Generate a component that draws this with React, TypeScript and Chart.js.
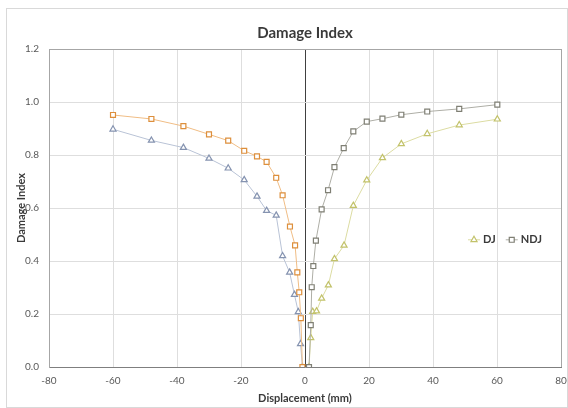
import React, { useEffect, useRef } from "react";
import { Chart, registerables } from "chart.js";

Chart.register(...registerables);

// ---- Data ----
const djLeftX = [-60, -48, -38, -30, -24, -19, -15, -12, -9, -7, -4.8, -3.3, -2.1, -1.4, -0.8];
const djLeftY = [0.897, 0.855, 0.828, 0.787, 0.75, 0.706, 0.644, 0.59, 0.572, 0.419, 0.357, 0.273, 0.208, 0.087, 0];

const ndjLeftX = [-60, -48, -38, -30, -24, -19, -15, -12, -9, -7, -4.7, -3.1, -2.4, -1.8, -1.3, -0.8];
const ndjLeftY = [0.951, 0.936, 0.909, 0.878, 0.854, 0.816, 0.795, 0.774, 0.714, 0.648, 0.53, 0.459, 0.357, 0.282, 0.184, 0];

const djRightX = [1.25, 1.8, 2.4, 3.6, 5.2, 7.3, 9.2, 12.2, 15.1, 19.3, 24.2, 30.1, 38.2, 48.2, 60.1];
const djRightY = [0, 0.11, 0.209, 0.211, 0.259, 0.309, 0.408, 0.459, 0.609, 0.705, 0.789, 0.842, 0.88, 0.913, 0.935];

const ndjRightX = [1.25, 1.8, 2.1, 2.6, 3.4, 5.2, 7.2, 9.2, 12.1, 15.1, 19.3, 24.2, 30.1, 38.2, 48.2, 60.1];
const ndjRightY = [0, 0.158, 0.301, 0.381, 0.477, 0.595, 0.667, 0.754, 0.826, 0.889, 0.926, 0.937, 0.952, 0.964, 0.974, 0.99];

const legendLabels = ["DJ", "NDJ"];

const X_MIN = -80;
const X_MAX = 80;
const X_STEP = 20;
const Y_MIN = 0;
const Y_MAX = 1.2;
const Y_STEP = 0.2;

// ---- Styles ----
const C_DJ_L = { line: "#b9c3d6", point: "#8593b0" };
const C_NDJ_L = { line: "#f0bd85", point: "#dd8f3c" };
const C_DJ_R = { line: "#dcdca2", point: "#c2c26a" };
const C_NDJ_R = { line: "#aeaea6", point: "#7f7f74" };

const FONT = "Lato, 'Open Sans', sans-serif";

const mk = (xs: number[], ys: number[]) => xs.map((x, i) => ({ x, y: ys[i] }));

function drawMarker(ctx: CanvasRenderingContext2D, style: string, x: number, y: number, r: number, color: string) {
  ctx.beginPath();
  if (style === "triangle") {
    ctx.moveTo(x, y - r);
    ctx.lineTo(x + r * 0.866, y + r * 0.5);
    ctx.lineTo(x - r * 0.866, y + r * 0.5);
    ctx.closePath();
  } else {
    const s = r * Math.SQRT1_2;
    ctx.rect(x - s, y - s, 2 * s, 2 * s);
  }
  ctx.fillStyle = "#ffffff";
  ctx.fill();
  ctx.lineWidth = 1.2;
  ctx.strokeStyle = color;
  ctx.stroke();
}

const legendStyles = [
  { style: "triangle", line: C_DJ_R.line, point: C_DJ_R.point },
  { style: "rect", line: C_NDJ_R.line, point: C_NDJ_R.point },
];

const insideLegend = {
  id: "insideLegend",
  afterDraw(chart: any) {
    const { ctx, chartArea } = chart;
    const y = chartArea.top + (chartArea.bottom - chartArea.top) * 0.6;
    let x = chartArea.right - 93;
    ctx.save();
    ctx.font = `bold 11px ${FONT}`;
    ctx.textBaseline = "middle";
    ctx.textAlign = "left";
    legendLabels.forEach((label, i) => {
      const st = legendStyles[i];
      ctx.strokeStyle = st.line;
      ctx.lineWidth = 1;
      ctx.beginPath();
      ctx.moveTo(x, y);
      ctx.lineTo(x + 12, y);
      ctx.stroke();
      drawMarker(ctx, st.style, x + 6, y, 3.5, st.point);
      ctx.fillStyle = "#3a3a3a";
      ctx.fillText(label, x + 15, y);
      x += 15 + ctx.measureText(label).width + 10;
    });
    ctx.restore();
  },
};

function ds(label: string, xs: number[], ys: number[], c: { line: string; point: string }, style: string) {
  return {
    label,
    data: mk(xs, ys),
    showLine: true,
    tension: 0,
    borderColor: c.line,
    borderWidth: 1,
    pointStyle: style,
    pointRadius: 3.5,
    pointBorderWidth: 1.2,
    pointBorderColor: c.point,
    pointBackgroundColor: "#ffffff",
  };
}

export default function App() {
  const ref = useRef<HTMLCanvasElement | null>(null);

  useEffect(() => {
    if (!ref.current) return;
    const chart = new Chart(ref.current, {
      type: "scatter",
      data: {
        datasets: [
          ds("NDJ", ndjRightX, ndjRightY, C_NDJ_R, "rect"),
          ds("DJ", djRightX, djRightY, C_DJ_R, "triangle"),
          ds("NDJ (-)", ndjLeftX, ndjLeftY, C_NDJ_L, "rect"),
          ds("DJ (-)", djLeftX, djLeftY, C_DJ_L, "triangle"),
        ] as any,
      },
      options: {
        animation: false,
        responsive: false,
        layout: { padding: { left: 0, right: 0, top: 0, bottom: 0 } },
        plugins: {
          legend: { display: false },
          tooltip: { enabled: false },
          title: {
            display: true,
            text: "Damage Index",
            fullSize: false,
            color: "#3a3a3a",
            font: { family: FONT, size: 15, weight: "bold" },
            padding: { top: 15, bottom: 7 },
          },
        },
        scales: {
          x: {
            type: "linear",
            min: X_MIN,
            max: X_MAX,
            ticks: {
              stepSize: X_STEP,
              padding: 8,
              color: "#595959",
              font: { family: FONT, size: 10 },
            },
            grid: {
              drawTicks: false,
              color: (c: any) => {
                const v = c.tick ? c.tick.value : null;
                if (v === 0) return "#404040";
                if (v === X_MAX) return "#a6a6a6";
                return "#dedede";
              },
            },
            border: { color: "#7f7f7f" },
            title: {
              display: true,
              text: "Displacement (mm)",
              color: "#3a3a3a",
              font: { family: FONT, size: 11, weight: "bold" },
              padding: { top: 0, bottom: 2 },
            },
            afterFit(s: any) {
              s.height = 40;
              s.paddingRight = 6;
              s.paddingLeft = 8;
            },
          },
          y: {
            type: "linear",
            min: Y_MIN,
            max: Y_MAX,
            ticks: {
              stepSize: Y_STEP,
              padding: 10,
              color: "#595959",
              font: { family: FONT, size: 10 },
              callback: (v: any) => Number(v).toFixed(1),
            },
            grid: {
              drawTicks: false,
              color: (c: any) => {
                const v = c.tick ? c.tick.value : null;
                if (v !== null && Math.abs(v - Y_MAX) < 1e-6) return "#a6a6a6";
                return "#dedede";
              },
            },
            border: { color: "#a6a6a6" },
            title: {
              display: true,
              text: "Damage Index",
              color: "#3a3a3a",
              font: { family: FONT, size: 11, weight: "bold" },
              padding: { top: 8, bottom: 0 },
            },
            afterFit(s: any) {
              s.width = 42;
            },
          },
        },
      } as any,
      plugins: [insideLegend as any],
    });
    return () => chart.destroy();
  }, []);

  return (
    <div
      style={{
        position: "absolute",
        left: 6,
        top: 8,
        width: 560,
        height: 398,
        border: "1px solid #d9d9d9",
        background: "#ffffff",
      }}
    >
      <canvas ref={ref} width={560} height={398} style={{ display: "block" }} />
    </div>
  );
}
